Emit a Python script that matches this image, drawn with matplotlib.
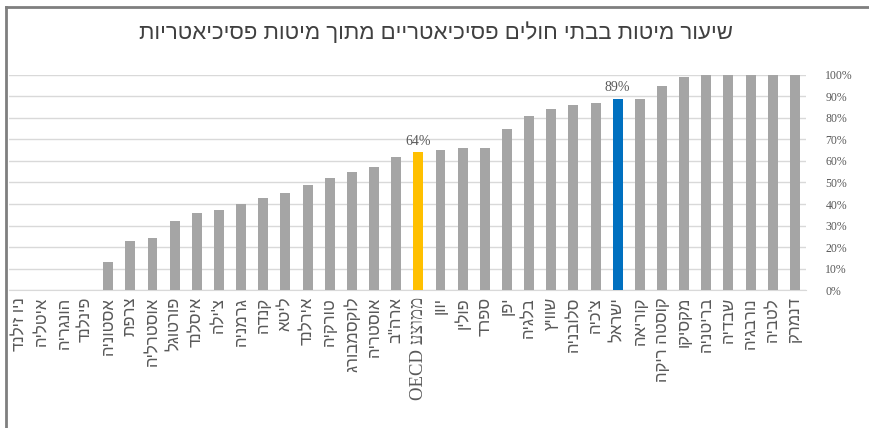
import matplotlib.pyplot as plt
from matplotlib.lines import Line2D

# נתונים: שיעור מיטות בבתי חולים פסיכיאטריים (%)
countries = [
    "ניו זילנד", "איטליה", "הונגריה", "פינלנד", "אסטוניה", "צרפת",
    "אוסטרליה", "פורטוגל", "איסלנד", "צ'ילה", "גרמניה", "קנדה",
    "ליטא", "אירלנד", "טורקיה", "לוקסמבורג", "אוסטריה", 'ארה"ב',
    "ממוצע OECD", "יוון", "פולין", "ספרד", "יפן", "בלגיה",
    "שוויץ", "סלובניה", "צ'כיה", "ישראל", "קוריאה", "קוסטה ריקה",
    "מקסיקו", "בריטניה", "שבדיה", "נורבגיה", "לטביה", "דנמרק",
]
values = [
    0, 0, 0, 0, 13, 23,
    24, 32, 36, 37, 40, 43,
    45, 49, 52, 55, 57, 62,
    64, 65, 66, 66, 75, 81,
    84, 86, 87, 89, 89, 95,
    99, 100, 100, 100, 100, 100,
]
title = "שיעור מיטות בבתי חולים פסיכיאטריים מתוך מיטות פסיכיאטריות"
highlight = {"ממוצע OECD": "#FFC000", "ישראל": "#0070C0"}
y_ticks = list(range(0, 101, 10))

BAR_GREY = "#A5A5A5"
TEXT_GREY = "#595959"


def visual(text):
    """matplotlib אינו מטפל בכיווניות - הופכים ידנית את סדר המילים והאותיות."""
    words = text.split(" ")[::-1]
    out = []
    for w in words:
        if any("\u0590" <= ch <= "\u05FF" for ch in w):
            out.append(w[::-1])
        else:
            out.append(w)
    return " ".join(out)


fig = plt.figure(figsize=(8.69, 4.28), dpi=100)
ax = fig.add_axes([0.0098, 0.3224, 0.9177, 0.5024])

x = list(range(len(countries)))
colors = [highlight.get(c, BAR_GREY) for c in countries]
ax.bar(x, values, width=0.45, color=colors, zorder=3)

# תוויות ערך מעל העמודות המודגשות
for i, c in enumerate(countries):
    if c in highlight:
        ax.text(i, values[i] + 2, f"{values[i]}%", ha="center", va="bottom",
                fontsize=10, color=TEXT_GREY, family="Liberation Serif")

ax.set_xlim(-0.5, len(countries) - 0.5)
ax.set_ylim(0, 100)
ax.yaxis.tick_right()
ax.set_yticks(y_ticks, [f"{t}%" for t in y_ticks])
ax.tick_params(axis="y", length=0, pad=14, labelsize=8.5, labelcolor=TEXT_GREY)
for lab in ax.get_yticklabels():
    lab.set_fontfamily("Liberation Serif")

ax.set_xticks(x, [visual(c) for c in countries], rotation=90)
ax.tick_params(axis="x", length=0, pad=5, labelsize=12, labelcolor=TEXT_GREY)
for lab, c in zip(ax.get_xticklabels(), countries):
    lab.set_fontfamily("Liberation Sans")
    if "OECD" in c:
        lab.set_fontfamily("Liberation Serif")
        lab.set_fontsize(13.5)

ax.grid(axis="y", color="#D9D9D9", linewidth=1, zorder=0)
for side in ["top", "right", "left"]:
    ax.spines[side].set_visible(False)
ax.spines["bottom"].set_color("#D9D9D9")

fig.text(0.502, 0.923, visual(title), ha="center", va="center", fontsize=16,
         color="#404040", family="Liberation Sans")

# מסגרת אפורה סביב התרשים
fig.add_artist(Line2D([0.007, 0.007], [0.0, 0.984], transform=fig.transFigure,
                      color="#7F7F7F", linewidth=2))
fig.add_artist(Line2D([0.007, 1.0], [0.984, 0.984], transform=fig.transFigure,
                      color="#7F7F7F", linewidth=2))

fig.savefig("out.png", dpi=100)
